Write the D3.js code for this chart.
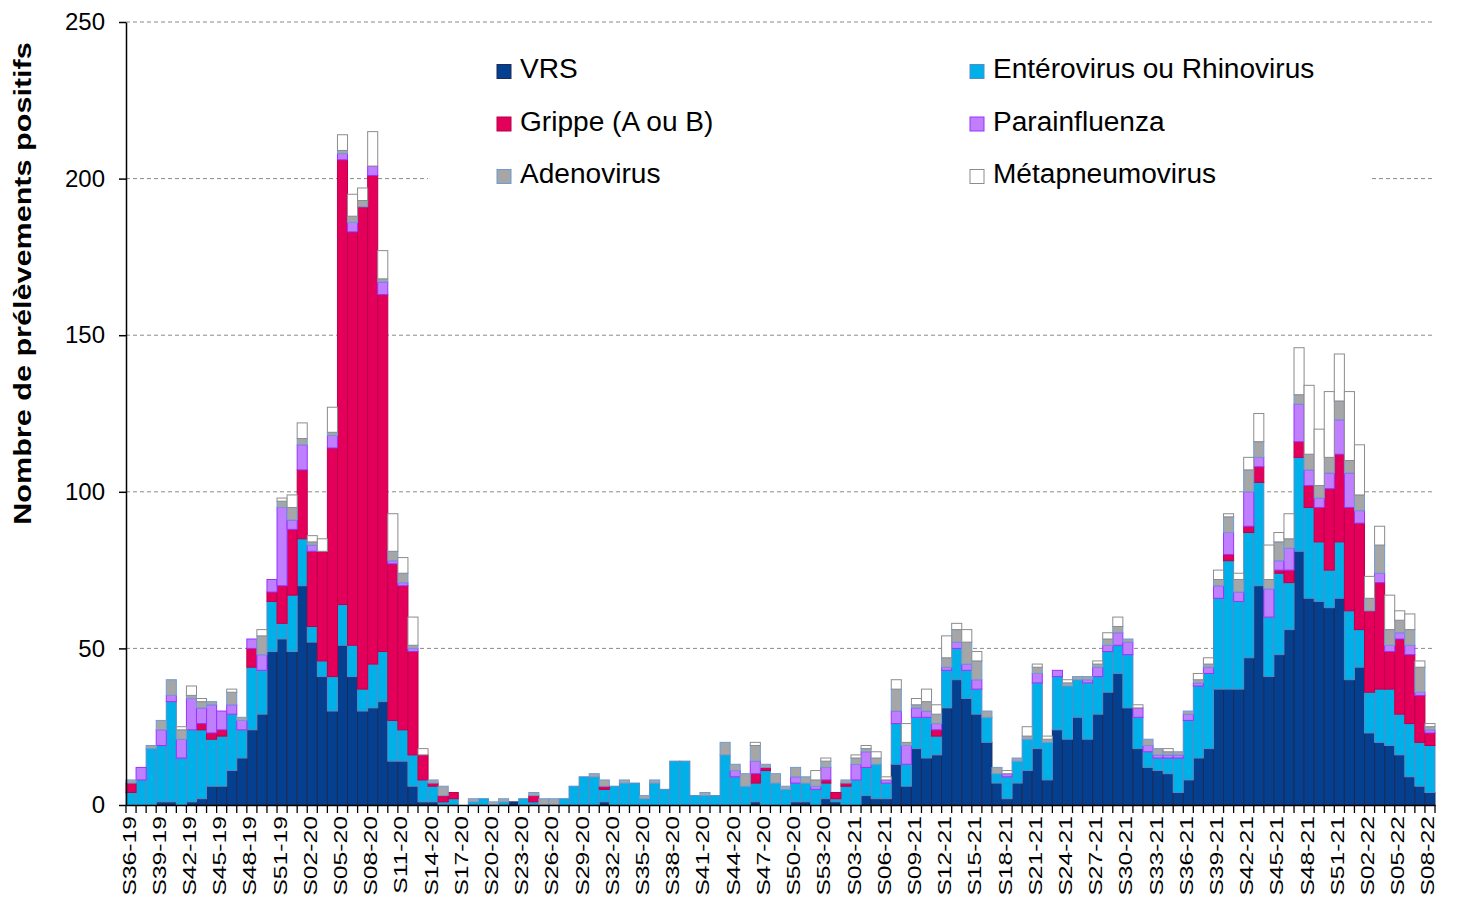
<!DOCTYPE html>
<html><head><meta charset="utf-8">
<script src="https://cdn.jsdelivr.net/npm/d3@7"></script>
<style>
body{margin:0;background:#fff}
svg{display:block}
text{font-family:"Liberation Sans",Arial,sans-serif;fill:#000}
</style>
</head><body>
<svg id="c" width="1457" height="897"></svg>
<script>
const weeks = [
"S36-19","S37-19","S38-19","S39-19","S40-19","S41-19","S42-19","S43-19","S44-19","S45-19","S46-19","S47-19","S48-19","S49-19","S50-19","S51-19","S52-19",
"S01-20","S02-20","S03-20","S04-20","S05-20","S06-20","S07-20","S08-20","S09-20","S10-20",
"S11-20","S12-20","S13-20","S14-20","S15-20","S16-20","S17-20","S18-20","S19-20","S20-20",
"S21-20","S22-20","S23-20","S24-20","S25-20","S26-20","S27-20","S28-20","S29-20","S30-20",
"S31-20","S32-20","S33-20","S34-20","S35-20","S36-20","S37-20","S38-20","S39-20","S40-20",
"S41-20","S42-20","S43-20","S44-20","S45-20","S46-20","S47-20","S48-20","S49-20","S50-20",
"S51-20","S52-20","S53-20",
"S01-21","S02-21","S03-21","S04-21","S05-21","S06-21","S07-21","S08-21","S09-21","S10-21",
"S11-21","S12-21","S13-21","S14-21","S15-21","S16-21","S17-21","S18-21","S19-21","S20-21",
"S21-21","S22-21","S23-21","S24-21","S25-21","S26-21","S27-21","S28-21","S29-21","S30-21",
"S31-21","S32-21","S33-21","S34-21","S35-21","S36-21","S37-21","S38-21","S39-21","S40-21",
"S41-21","S42-21","S43-21","S44-21","S45-21","S46-21","S47-21","S48-21","S49-21","S50-21",
"S51-21","S52-21",
"S01-22","S02-22","S03-22","S04-22","S05-22","S06-22","S07-22","S08-22"];

// one line per 10 weeks, same layout as weeks
const vrs = [
0,0,0,1,1,0,1,2,6,6,11,15,24,29,49,53,49,
70,52,41,30,51,41,30,31,33,14,
14,6,1,1,0,0,0,0,0,0,
0,1,0,0,0,0,0,0,0,0,
1,0,0,0,0,0,0,0,0,0,
0,0,0,0,0,1,0,0,0,1,
1,0,2,
1,0,0,3,2,2,13,6,18,15,
16,31,40,34,29,20,7,2,7,11,
18,8,24,21,28,21,29,36,42,31,
18,12,11,10,4,8,15,18,37,37,
37,47,70,41,48,56,81,66,65,63,
66,40,
44,23,20,19,16,9,6,4];
const ent = [
4,8,18,18,32,15,23,22,15,16,18,9,20,14,16,5,18,
15,5,5,11,13,10,7,14,16,13,
10,10,7,5,1,2,0,1,2,0,
1,0,2,1,0,0,2,6,9,9,
4,6,7,7,2,7,5,14,14,3,
3,3,16,9,6,6,11,7,5,6,
6,5,5,
1,6,8,9,11,5,13,7,10,13,
6,12,10,9,8,8,3,7,7,10,
21,12,17,17,12,18,12,13,9,17,
10,5,4,5,11,19,23,24,29,41,
28,40,33,19,26,15,30,29,19,12,
18,22,
12,13,17,18,13,17,14,15];
const grippe = [
3,0,0,0,0,0,0,2,2,2,0,0,6,0,3,12,21,
22,24,35,73,142,132,154,156,114,50,
46,33,8,1,2,2,0,0,0,0,
0,0,0,2,0,0,0,0,0,0,
1,0,0,0,0,0,0,0,0,0,
0,0,0,0,0,3,1,0,0,0,
0,0,1,
2,1,0,0,0,0,0,0,0,0,
2,0,0,0,0,0,0,0,0,0,
0,0,0,0,0,0,0,0,0,0,
0,0,0,0,0,0,0,0,0,2,
0,2,5,0,1,4,5,7,11,26,
28,33,
34,26,34,12,24,22,15,4];
const para = [
0,4,0,5,2,6,10,5,9,6,3,3,3,5,4,25,3,
8,2,0,4,2,3,0,3,4,1,
1,1,0,0,0,0,0,0,0,0,
0,0,0,0,0,0,0,0,0,0,
0,0,0,0,0,0,0,0,0,0,
0,0,0,2,0,4,0,0,0,2,
0,1,4,
0,0,5,5,0,1,4,6,3,2,
2,1,2,2,3,0,0,1,0,0,
3,0,2,0,0,1,3,2,4,4,
3,2,1,1,1,2,1,2,4,7,
3,11,3,9,3,7,12,5,3,5,
11,11,
4,0,3,2,2,3,1,1];
const adeno = [
1,0,1,3,5,3,1,2,1,0,4,1,0,6,0,2,4,
2,1,0,1,1,2,2,0,1,3,
3,1,0,1,3,0,0,1,0,1,
1,0,0,1,2,2,0,0,0,1,
2,0,1,0,1,1,0,0,0,0,
1,0,4,2,4,5,1,3,1,3,
2,2,2,
0,1,2,1,2,0,7,1,1,3,
3,3,4,7,6,2,2,0,1,1,
2,1,0,1,1,1,1,2,2,1,
0,2,2,1,1,1,1,1,2,5,
4,7,5,3,6,3,3,5,4,5,
6,4,
5,4,9,5,4,5,8,1];
const meta = [
0,0,0,0,0,1,3,1,0,0,1,0,0,2,0,1,4,
5,2,4,8,5,7,4,11,9,12,
5,9,2,0,0,0,0,0,0,0,
0,0,0,0,0,0,0,0,0,0,
0,0,0,0,0,0,0,0,0,0,
0,0,0,0,0,1,0,0,0,0,
0,3,1,
0,0,1,1,2,1,3,6,2,4,
3,7,2,4,3,0,0,1,0,3,
1,1,0,1,0,0,1,2,3,0,
1,0,0,1,0,0,2,2,3,1,
2,4,9,11,3,8,15,22,18,21,
15,22,
16,7,6,11,3,5,2,1];

const yTicks = [0,50,100,150,200,250];
const keys = ["vrs","ent","grippe","para","adeno","meta"];
const labels = {vrs:"VRS",ent:"Entérovirus ou Rhinovirus",grippe:"Grippe (A ou B)",para:"Parainfluenza",adeno:"Adenovirus",meta:"Métapneumovirus"};
const fills = {vrs:"#053F8F",ent:"#00B0E8",grippe:"#E4005A",para:"#BF7FFF",adeno:"#A6A6A6",meta:"#FFFFFF"};
const strokes = {vrs:"#1E2B55",ent:"#5A8AC6",grippe:"#B8004A",para:"#9933FF",adeno:"#6E9BD6",meta:"#8C8C8C"};

const series = {vrs, ent, grippe, para, adeno, meta};
keys.forEach(k=>{ if(series[k].length!==weeks.length) throw new Error(k+" has "+series[k].length+" values, weeks "+weeks.length); });
const table = weeks.map((w,i)=>{const o={week:w}; keys.forEach(k=>o[k]=series[k][i]); return o;});
const stacked = d3.stack().keys(keys)(table);

const svg = d3.select("#c");
const M = {l:126, r:1435, t:22, b:805};
const x = d3.scaleBand().domain(weeks).range([M.l, M.r]).padding(0);
const y = d3.scaleLinear().domain([0,250]).range([M.b, M.t]);

// gridlines
svg.append("g").selectAll("line").data(yTicks.filter(v=>v>0)).join("line")
  .attr("x1",M.l).attr("x2",M.r).attr("y1",d=>y(d)).attr("y2",d=>y(d))
  .attr("stroke","#8a8a8a").attr("stroke-width",1).attr("stroke-dasharray","4,3");

// legend background
svg.append("rect").attr("x",428).attr("y",40).attr("width",944).attr("height",160).attr("fill","#fff");

// bars
svg.append("g").selectAll("g").data(stacked).join("g")
  .attr("fill",d=>fills[d.key]).attr("stroke",d=>strokes[d.key]).attr("stroke-width",1)
  .selectAll("rect").data(d=>d.filter(s=>s[1]>s[0])).join("rect")
  .attr("x",d=>x(d.data.week)).attr("width",x.bandwidth())
  .attr("y",d=>y(d[1])).attr("height",d=>y(d[0])-y(d[1]));

// y axis
const ya = svg.append("g").attr("transform",`translate(${M.l},0)`)
  .call(d3.axisLeft(y).tickValues(yTicks).tickSize(7).tickSizeOuter(0).tickPadding(14));
ya.attr("font-family",null).attr("font-size",null);
ya.select(".domain").attr("stroke","#000").attr("stroke-width",1.5);
ya.selectAll(".tick line").attr("stroke","#000").attr("stroke-width",1.5);
ya.selectAll(".tick text").attr("font-size",24).attr("fill","#000");

// x axis
const xa = svg.append("g").attr("transform",`translate(0,${M.b})`)
  .call(d3.axisBottom(x).tickValues(weeks.filter((w,i)=>i%3===0)).tickSize(0).tickSizeOuter(0).tickPadding(0));
xa.attr("font-family",null).attr("font-size",null);
xa.select(".domain").attr("stroke","#000").attr("stroke-width",1.5);
xa.selectAll(".tick text").attr("y",null).attr("dy",null)
  .attr("font-size",19).attr("fill","#000").attr("text-anchor","end")
  .attr("transform","translate(4.5,11) rotate(-90) scale(1.3,1)");
// tick marks at band boundaries
const bounds = weeks.map(w=>x(w)).concat([x.range()[1]]);
svg.append("g").selectAll("line").data(bounds).join("line")
  .attr("x1",d=>d).attr("x2",d=>d).attr("y1",M.b).attr("y2",M.b+8)
  .attr("stroke","#000").attr("stroke-width",1.3);

// y title
svg.append("text").attr("transform","translate(31,283.5) rotate(-90) scale(1.33,1)")
  .attr("text-anchor","middle").attr("font-size",23).attr("font-weight","bold")
  .text("Nombre de prélèvements positifs");

// legend
const legendCols = [["vrs","grippe","adeno"],["ent","para","meta"]];
const colX = [497, 970];
const rowY = [78.5, 131, 183.5];
const lg = svg.append("g");
legendCols.forEach((col,ci)=>col.forEach((k,ri)=>{
  lg.append("rect").attr("x",colX[ci]).attr("y",rowY[ri]-14).attr("width",14).attr("height",14)
    .attr("fill",fills[k]).attr("stroke",strokes[k]).attr("stroke-width",1);
  lg.append("text").attr("x",colX[ci]+23).attr("y",rowY[ri]).attr("font-size",27)
    .attr("transform",`translate(${colX[ci]+23},0) scale(1.04,1) translate(${-(colX[ci]+23)},0)`)
    .text(labels[k]);
}));
</script>
</body></html>
